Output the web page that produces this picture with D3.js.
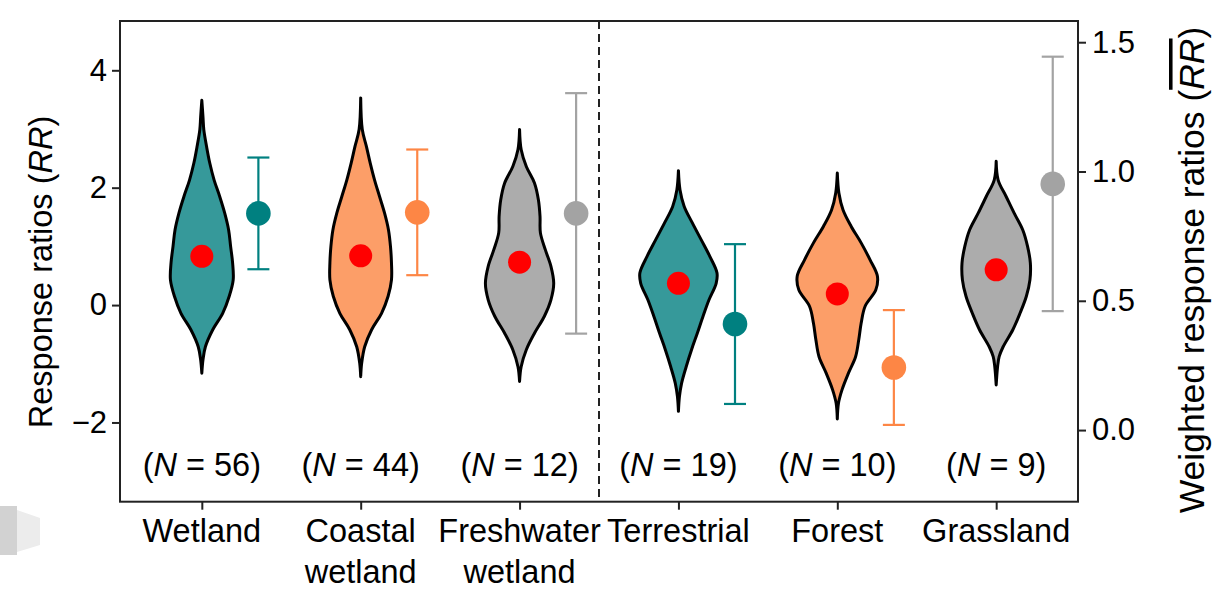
<!DOCTYPE html>
<html>
<head>
<meta charset="utf-8">
<script src="https://cdn.jsdelivr.net/npm/d3@7"></script>
<style>
  html, body { margin: 0; padding: 0; background: #fff; }
  svg { display: block; font-family: "Liberation Sans", Arial, sans-serif; }
</style>
</head>
<body>
<svg id="chart" width="1218" height="589"></svg>
<script>
// Ecosystem groups (one violin + one weighted-mean error bar each)
const categories = [["Wetland"], ["Coastal", "wetland"], ["Freshwater", "wetland"],
                    ["Terrestrial"], ["Forest"], ["Grassland"]];
const sampleSizes = [56, 44, 12, 19, 10, 9];

// Mean response ratio (RR, left axis) shown as the red dot inside each violin
const meanRR = [0.83, 0.84, 0.73, 0.37, 0.19, 0.60];

// Weighted response ratio (right axis) and half-width of its 95% CI
const weightedRR = [0.838, 0.842, 0.838, 0.410, 0.242, 0.952];
const weightedCI = [0.216, 0.243, 0.465, 0.309, 0.222, 0.492];

// Kernel density profiles of RR: [RR value, relative density]
const densWetland = [[3.49,0],[3.2,0.03],[2.99,0.05],[2.7,0.12],[2.42,0.2],[2.13,0.31],[1.85,0.45],
  [1.57,0.575],[1.28,0.675],[1.0,0.725],[0.72,0.775],[0.43,0.79],[0.15,0.69],[-0.14,0.525],
  [-0.42,0.275],[-0.71,0.09],[-0.93,0.03],[-1.16,0]];
const densCoastal = [[3.53,0],[2.99,0.04],[2.70,0.145],[2.42,0.24],[2.13,0.35],[1.85,0.475],
  [1.57,0.6],[1.28,0.7],[1.0,0.75],[0.72,0.775],[0.43,0.775],[0.15,0.69],[-0.14,0.525],
  [-0.42,0.275],[-0.71,0.1],[-0.99,0.025],[-1.22,0]];
const densFreshwater = [[2.99,0],[2.65,0.04],[2.36,0.17],[2.08,0.375],[1.79,0.475],[1.51,0.515],
  [1.23,0.525],[0.94,0.65],[0.66,0.79],[0.37,0.86],[0.09,0.79],[-0.19,0.625],[-0.48,0.375],
  [-0.76,0.17],[-1.05,0.04],[-1.30,0]];
const densTerrestrial = [[2.29,0],[1.96,0.04],[1.68,0.145],[1.40,0.35],[1.11,0.575],[0.83,0.79],
  [0.55,0.97],[0.37,0.95],[0.09,0.77],[-0.19,0.62],[-0.48,0.475],[-0.76,0.33],[-1.05,0.195],
  [-1.33,0.08],[-1.56,0.025],[-1.81,0]];
const densForest = [[2.25,0],[1.91,0.04],[1.62,0.145],[1.34,0.35],[1.06,0.6],[0.77,0.825],
  [0.49,1.01],[0.26,0.97],[-0.02,0.7],[-0.31,0.6],[-0.59,0.54],[-0.88,0.46],[-1.16,0.28],
  [-1.44,0.12],[-1.67,0.03],[-1.94,0]];
const densGrassland = [[2.45,0],[2.13,0.05],[1.85,0.25],[1.57,0.45],[1.28,0.67],[1.0,0.79],
  [0.72,0.86],[0.43,0.85],[0.15,0.76],[-0.14,0.6],[-0.42,0.42],[-0.71,0.175],[-0.88,0.075],
  [-1.05,0.035],[-1.36,0]];
const densities = [densWetland, densCoastal, densFreshwater, densTerrestrial, densForest, densGrassland];

// Axis ticks
const leftTicks = [-2, 0, 2, 4];
const rightTicks = [0.0, 0.5, 1.0, 1.5];

// Colours per group
const violinFill = ["#36999a", "#fc9e68", "#acacac", "#36999a", "#fc9e68", "#acacac"];
const markColor  = ["#008080", "#fd8645", "#a3a3a3", "#008080", "#fd8645", "#a3a3a3"];

const svg = d3.select("#chart");
const plot = { left: 120, right: 1078, top: 21, bottom: 501.7 };

const x = d3.scaleLinear().domain([-0.515, 5.515]).range([plot.left, plot.right]);
const yL = d3.scaleLinear().domain([-3.35, 4.84]).range([plot.bottom, plot.top]);
const yR = d3.scaleLinear().domain([-0.277, 1.582]).range([plot.bottom, plot.top]);
const halfWidth = d3.scaleLinear().domain([0, 1]).range([0, 0.25]);
const ciOffset = 0.356;

// Pale grey mark at the left edge below the axis
svg.append("rect").attr("x", 0).attr("y", 506).attr("width", 17).attr("height", 49).attr("fill", "#d2d2d2");
svg.append("path").attr("d", "M17,510 L40,518 L40,545 L17,552 Z").attr("fill", "#ececec");

// Group divider between wetland and terrestrial groups
svg.append("line")
  .attr("x1", x(2.5)).attr("x2", x(2.5))
  .attr("y1", plot.top).attr("y2", plot.bottom)
  .attr("stroke", "#222").attr("stroke-width", 2)
  .attr("stroke-dasharray", "8,5");

// Violins
const area = d3.area()
  .curve(d3.curveCatmullRom.alpha(0.5))
  .y(d => yL(d[0]));

densities.forEach((dens, i) => {
  area.x0(d => x(i - halfWidth(d[1]))).x1(d => x(i + halfWidth(d[1])));
  svg.append("path")
    .datum(dens)
    .attr("d", area)
    .attr("fill", violinFill[i])
    .attr("stroke", "#000")
    .attr("stroke-width", 3)
    .attr("stroke-linejoin", "round");
});

// Mean RR dots
svg.append("g").selectAll("circle")
  .data(meanRR)
  .join("circle")
  .attr("cx", (d, i) => x(i))
  .attr("cy", d => yL(d))
  .attr("r", 11.5)
  .attr("fill", "#ff0000");

// Weighted RR with confidence intervals (right axis)
const eb = svg.append("g");
weightedRR.forEach((m, i) => {
  const cx = x(i + ciOffset);
  const lo = yR(m - weightedCI[i]), hi = yR(m + weightedCI[i]);
  const g = eb.append("g").attr("stroke", markColor[i]).attr("stroke-width", 2.2);
  g.append("line").attr("x1", cx).attr("x2", cx).attr("y1", lo).attr("y2", hi);
  g.append("line").attr("x1", cx - 11).attr("x2", cx + 11).attr("y1", lo).attr("y2", lo);
  g.append("line").attr("x1", cx - 11).attr("x2", cx + 11).attr("y1", hi).attr("y2", hi);
  eb.append("circle").attr("cx", cx).attr("cy", yR(m)).attr("r", 12.3).attr("fill", markColor[i]);
});

// Sample size annotations
svg.append("g").selectAll("text")
  .data(sampleSizes)
  .join("text")
  .attr("x", (d, i) => x(i))
  .attr("y", 476)
  .attr("text-anchor", "middle")
  .attr("font-size", 32.5)
  .attr("fill", "#000")
  .each(function(d) {
    const t = d3.select(this);
    t.append("tspan").text("(");
    t.append("tspan").attr("font-style", "italic").text("N");
    t.append("tspan").text(" = " + d + ")");
  });

// Frame
svg.append("rect")
  .attr("x", plot.left).attr("y", plot.top)
  .attr("width", plot.right - plot.left).attr("height", plot.bottom - plot.top)
  .attr("fill", "none").attr("stroke", "#222").attr("stroke-width", 2);

function styleAxis(g) {
  g.select(".domain").remove();
  g.selectAll(".tick line").attr("stroke", "#222").attr("stroke-width", 2);
  g.selectAll(".tick text").attr("font-size", 31).attr("fill", "#000")
    .attr("font-family", "Liberation Sans, Arial, sans-serif");
}

svg.append("g")
  .attr("transform", `translate(${plot.left},0)`)
  .call(d3.axisLeft(yL).tickValues(leftTicks).tickSize(8).tickPadding(5))
  .call(styleAxis);

svg.append("g")
  .attr("transform", `translate(${plot.right},0)`)
  .call(d3.axisRight(yR).tickValues(rightTicks).tickSize(8).tickPadding(6).tickFormat(d3.format(".1f")))
  .call(styleAxis);

svg.append("g")
  .attr("transform", `translate(0,${plot.bottom})`)
  .call(d3.axisBottom(x).tickValues(d3.range(categories.length)).tickSize(8).tickFormat(""))
  .call(styleAxis);

// Category labels (one or two lines)
svg.append("g").selectAll("text")
  .data(categories)
  .join("text")
  .attr("text-anchor", "middle")
  .attr("font-size", 32.5)
  .attr("fill", "#000")
  .each(function(lines, i) {
    const t = d3.select(this);
    lines.forEach((ln, k) => {
      t.append("tspan").attr("x", x(i)).attr("y", 542 + k * 41).text(ln);
    });
  });

// Axis titles
const leftTitle = svg.append("text")
  .attr("transform", "translate(52,272) rotate(-90)")
  .attr("text-anchor", "middle")
  .attr("font-size", 32.5)
  .attr("fill", "#000");
leftTitle.append("tspan").text("Response ratios (");
leftTitle.append("tspan").attr("font-style", "italic").text("RR");
leftTitle.append("tspan").text(")");

const rightTitle = svg.append("text")
  .attr("transform", "translate(1204,270) rotate(-90)")
  .attr("text-anchor", "middle")
  .attr("font-size", 35.5)
  .attr("fill", "#000");
rightTitle.append("tspan").text("Weighted response ratios (");
rightTitle.append("tspan").attr("font-style", "italic").attr("text-decoration", "overline").text("RR");
rightTitle.append("tspan").text(")");
</script>
</body>
</html>
